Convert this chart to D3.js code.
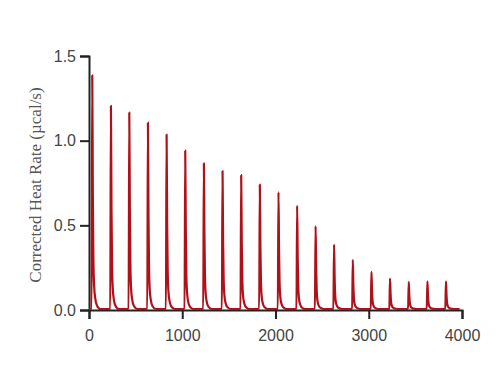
<!DOCTYPE html>
<html>
<head>
<meta charset="utf-8">
<script src="https://cdn.jsdelivr.net/npm/d3@7"></script>
<style>
  body { margin: 0; background: #fff; }
  .tick text { font-family: "Liberation Sans", Arial, sans-serif; font-size: 16px; fill: #444; }
</style>
</head>
<body>
<script>
// time of each injection peak (s)
const peakTimes = [35, 235, 432, 632, 832, 1032, 1232, 1432, 1632, 1832,
                   2032, 2232, 2430, 2628, 2829, 3029, 3228, 3429, 3629, 3828];
// peak heights (µcal/s)
const peakHeights = [1.38, 1.20, 1.16, 1.10, 1.03, 0.935, 0.86, 0.815, 0.79, 0.735,
                     0.69, 0.61, 0.49, 0.38, 0.29, 0.22, 0.18, 0.16, 0.163, 0.163];
// shape of one peak: [seconds from top, fraction of height]
const peakShape = [[-7, 0], [0, 1], [6, 0.5], [12, 0.22], [20, 0.1], [32, 0.045], [50, 0.015], [85, 0]];
const baseline = 0.006;
const traceStart = 0, traceEnd = 3975;

const xTicks = [0, 1000, 2000, 3000, 4000];
const yTicks = [0, 0.5, 1.0, 1.5];

const width = 500, height = 388;
const margin = { top: 56, right: 38, bottom: 78, left: 89 };

const x = d3.scaleLinear().domain([0, 4000]).range([margin.left, width - margin.right]);
const y = d3.scaleLinear().domain([0, 1.5]).range([height - margin.bottom, margin.top]);

// build the trace
const trace = [[traceStart, baseline]];
peakTimes.forEach((t, i) => {
  peakShape.forEach(([dt, f]) => trace.push([t + dt, baseline + peakHeights[i] * f]));
});
trace.push([traceEnd, baseline]);

const svg = d3.select("body").append("svg")
  .attr("width", width)
  .attr("height", height);

svg.append("rect").attr("width", width).attr("height", height).attr("fill", "#fff");

const line = d3.line()
  .x(d => x(d[0]))
  .y(d => y(d[1]))
  .curve(d3.curveMonotoneX);

// axes
const xAxis = svg.append("g")
  .attr("transform", `translate(0,${y(0)})`)
  .call(d3.axisBottom(x).tickValues(xTicks).tickFormat(d3.format("d")).tickSizeOuter(0).tickSize(9).tickPadding(11));

const yAxis = svg.append("g")
  .attr("transform", `translate(${x(0)},0)`)
  .call(d3.axisLeft(y).tickValues(yTicks).tickFormat(d3.format(".1f")).tickSizeOuter(0).tickSize(9).tickPadding(4));

[xAxis, yAxis].forEach(g => {
  g.select(".domain").attr("stroke", "#222").attr("stroke-width", 2);
  g.selectAll(".tick line").attr("stroke", "#222").attr("stroke-width", 2);
});

svg.append("path")
  .datum(trace)
  .attr("fill", "none")
  .attr("stroke", "#b0101a")
  .attr("stroke-width", 2.2)
  .attr("stroke-linejoin", "round")
  .attr("d", line);

// y title
svg.append("text")
  .attr("transform", `translate(41,${(y(0) + y(1.5)) / 2 + 2}) rotate(-90)`)
  .attr("text-anchor", "middle")
  .attr("font-family", "'Liberation Serif', 'Times New Roman', serif")
  .attr("font-size", 17)
  .attr("fill", "#555")
  .text("Corrected Heat Rate (µcal/s)");
</script>
</body>
</html>
